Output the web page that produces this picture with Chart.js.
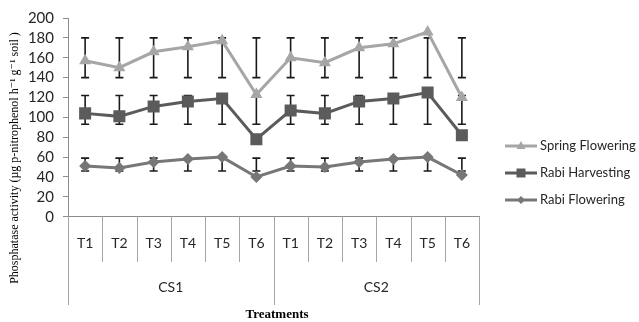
<!DOCTYPE html>
<html>
<head>
<meta charset="utf-8">
<script src="https://cdn.jsdelivr.net/npm/chart.js@4"></script>
<style>
  html, body { margin: 0; padding: 0; background: #fff; }
  #wrap { width: 639px; height: 322px; position: relative; }
</style>
</head>
<body>
<div id="wrap"><canvas id="myChart" width="639" height="322"></canvas></div>
<script>
// categories and groups
var treatments = ['T1', 'T2', 'T3', 'T4', 'T5', 'T6', 'T1', 'T2', 'T3', 'T4', 'T5', 'T6'];
var groups = ['CS1', 'CS2'];
var groupSize = 6;

// series values
var springFlowering = [157, 150, 166, 171, 177, 123, 160, 155, 170, 174, 186, 120];
var rabiHarvesting = [104, 101, 111, 116, 119, 78, 107, 104, 116, 119, 125, 82];
var rabiFlowering = [51, 49, 55, 58, 60, 40, 51, 50, 55, 58, 60, 42];

// error bar ends (they stay fixed per series in the original)
var springLow = [140, 140, 140, 140, 140, 140, 140, 140, 140, 140, 140, 140];
var springHigh = [180, 180, 180, 180, 180, 180, 180, 180, 180, 180, 180, 180];
var harvestLow = [93, 93, 93, 93, 93, 93, 93, 93, 93, 93, 93, 93];
var harvestHigh = [122, 122, 122, 122, 122, 122, 122, 122, 122, 122, 122, 122];
var floweringLow = [46, 46, 46, 46, 46, 46, 46, 46, 46, 46, 46, 46];
var floweringHigh = [59, 59, 59, 59, 59, 59, 59, 59, 59, 59, 59, 59];

var yTicks = [0, 20, 40, 60, 80, 100, 120, 140, 160, 180, 200];

var labelFont = 'Lato, "Open Sans", sans-serif';
var serifFont = '"Liberation Serif", "DejaVu Serif", serif';

var errLows = [springLow, harvestLow, floweringLow];
var errHighs = [springHigh, harvestHigh, floweringHigh];

var errorBars = {
  id: 'errorBars',
  beforeDatasetsDraw: function(chart) {
    var ctx = chart.ctx;
    var y = chart.scales.y;
    ctx.save();
    ctx.strokeStyle = '#1a1a1a';
    ctx.lineWidth = 1.6;
    chart.data.datasets.forEach(function(ds, i) {
      var meta = chart.getDatasetMeta(i);
      meta.data.forEach(function(pt, j) {
        var lo = y.getPixelForValue(errLows[i][j]);
        var hi = y.getPixelForValue(errHighs[i][j]);
        var x = pt.x;
        ctx.beginPath();
        ctx.moveTo(x, lo); ctx.lineTo(x, hi);
        ctx.moveTo(x - 4, lo); ctx.lineTo(x + 4, lo);
        ctx.moveTo(x - 4, hi); ctx.lineTo(x + 4, hi);
        ctx.stroke();
      });
    });
    ctx.restore();
  }
};

function drawMarker(ctx, style, x, y, color) {
  ctx.fillStyle = color;
  ctx.beginPath();
  if (style == 'triangle') {
    ctx.moveTo(x, y - 5); ctx.lineTo(x + 4.5, y + 3); ctx.lineTo(x - 4.5, y + 3);
  } else if (style == 'rect') {
    ctx.rect(x - 4.5, y - 4.5, 9, 9);
  } else {
    ctx.moveTo(x, y - 4); ctx.lineTo(x + 4, y); ctx.lineTo(x, y + 4); ctx.lineTo(x - 4, y);
  }
  ctx.closePath();
  ctx.fill();
}

var extras = {
  id: 'extras',
  afterDraw: function(chart) {
    var ctx = chart.ctx;
    var x = chart.scales.x;
    var area = chart.chartArea;
    var n = treatments.length;
    ctx.save();

    // category separators below the axis
    ctx.strokeStyle = '#a6a6a6';
    ctx.lineWidth = 1;
    for (var i = 0; i <= n; i++) {
      var px;
      if (i == 0) px = area.left;
      else if (i == n) px = area.right;
      else px = (x.getPixelForValue(i - 1) + x.getPixelForValue(i)) / 2;
      px = Math.round(px) + 0.5;
      var end = (i % groupSize == 0) ? 305 : 262;
      ctx.beginPath();
      ctx.moveTo(px, area.bottom);
      ctx.lineTo(px, end);
      ctx.stroke();
    }

    // group labels
    ctx.fillStyle = '#262626';
    ctx.font = '14px ' + labelFont;
    ctx.textAlign = 'center';
    ctx.textBaseline = 'middle';
    groups.forEach(function(g, k) {
      var a = x.getPixelForValue(k * groupSize);
      var b = x.getPixelForValue(k * groupSize + groupSize - 1);
      ctx.fillText(g, (a + b) / 2, 287);
    });

    // axis titles
    ctx.fillStyle = '#000';
    ctx.font = 'bold 13px ' + serifFont;
    ctx.fillText('Treatments', 277, 315);
    ctx.save();
    ctx.translate(15, 158);
    ctx.rotate(-Math.PI / 2);
    ctx.font = '12px ' + serifFont;
    ctx.fillText('Phosphatase activity (\u00b5g p-nitrophenol h\u207b\u00b9 g\u207b\u00b9 soil )', 0, 0);
    ctx.restore();

    // legend
    var rows = [146, 173, 200];
    ctx.textAlign = 'left';
    ctx.font = '13px ' + labelFont;
    chart.data.datasets.forEach(function(ds, i) {
      var ly = rows[i];
      ctx.strokeStyle = ds.borderColor;
      ctx.lineWidth = 3;
      ctx.beginPath();
      ctx.moveTo(505, ly); ctx.lineTo(537, ly);
      ctx.stroke();
      drawMarker(ctx, ds.pointStyle, 521, ly, ds.pointBackgroundColor);
      ctx.fillStyle = '#262626';
      ctx.fillText(ds.label, 540, ly);
    });
    ctx.restore();
  }
};

var ctx = document.getElementById('myChart').getContext('2d');
var chart = new Chart(ctx, {
  type: 'line',
  data: {
    labels: treatments,
    datasets: [
      {
        label: 'Spring Flowering',
        data: springFlowering,
        borderColor: '#a6a6a6',
        backgroundColor: '#a6a6a6',
        pointBackgroundColor: '#a6a6a6',
        pointBorderWidth: 0,
        pointStyle: 'triangle',
        pointRadius: 7,
        borderWidth: 3,
        tension: 0
      },
      {
        label: 'Rabi Harvesting',
        data: rabiHarvesting,
        borderColor: '#5b5b5b',
        backgroundColor: '#5b5b5b',
        pointBackgroundColor: '#5b5b5b',
        pointBorderWidth: 0,
        pointStyle: 'rect',
        pointRadius: 8.5,
        borderWidth: 3,
        tension: 0
      },
      {
        label: 'Rabi Flowering',
        data: rabiFlowering,
        borderColor: '#777777',
        backgroundColor: '#777777',
        pointBackgroundColor: '#777777',
        pointBorderWidth: 0,
        pointStyle: 'rectRot',
        pointRadius: 6,
        borderWidth: 3,
        tension: 0
      }
    ]
  },
  options: {
    responsive: false,
    animation: false,
    layout: { padding: { top: 17, right: 160, bottom: 0, left: 0 } },
    plugins: {
      legend: { display: false },
      tooltip: { enabled: false }
    },
    scales: {
      x: {
        offset: true,
        grid: { display: false, drawTicks: false },
        border: { display: true, color: '#8c8c8c', width: 1 },
        ticks: {
          color: '#262626',
          font: { family: labelFont, size: 14 },
          padding: 18,
          maxRotation: 0,
          autoSkip: false
        },
        afterFit: function(s) { s.height = 105.3; }
      },
      y: {
        min: 0,
        max: 200,
        afterBuildTicks: function(s) {
          s.ticks = yTicks.map(function(v) { return { value: v }; });
        },
        grid: { drawOnChartArea: false, drawTicks: true, tickLength: 5, color: '#8c8c8c' },
        border: { display: true, color: '#8c8c8c', width: 1 },
        ticks: {
          color: '#262626',
          font: { family: labelFont, size: 15 },
          padding: 9,
          autoSkip: false
        },
        afterFit: function(s) { s.width = 68; }
      }
    }
  },
  plugins: [errorBars, extras]
});
</script>
</body>
</html>
